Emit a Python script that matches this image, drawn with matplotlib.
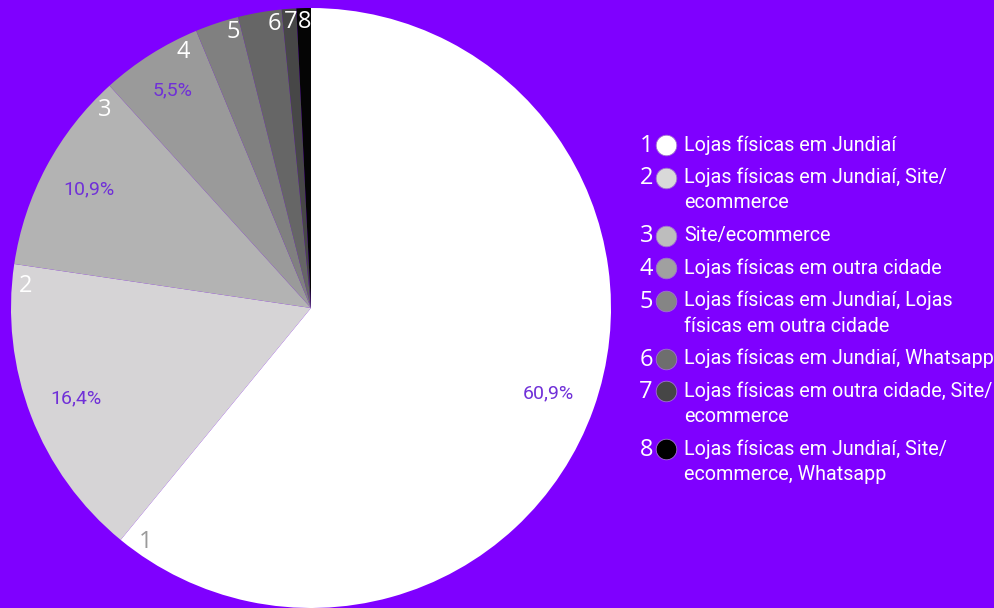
import matplotlib
matplotlib.use("Agg")
import matplotlib.pyplot as plt
import numpy as np

# respostas (n = 128)
counts = [78, 21, 14, 7, 3, 3, 1, 1]
pct_labels = ["60,9%", "16,4%", "10,9%", "5,5%", "", "", "", ""]
slice_colors = ["#FFFFFF", "#D6D4D6", "#B3B3B3", "#9A9A9A",
                "#808080", "#666666", "#474747", "#050505"]
marker_colors = ["#FFFFFF", "#D9D9D9", "#BDBDBD", "#A0A0A0",
                 "#858585", "#6E6E6E", "#464646", "#000000"]
legend_labels = [
    "Lojas físicas em Jundiaí",
    "Lojas físicas em Jundiaí, Site/\necommerce",
    "Site/ecommerce",
    "Lojas físicas em outra cidade",
    "Lojas físicas em Jundiaí, Lojas\nfísicas em outra cidade",
    "Lojas físicas em Jundiaí, Whatsapp",
    "Lojas físicas em outra cidade, Site/\necommerce",
    "Lojas físicas em Jundiaí, Site/\necommerce, Whatsapp",
]

BG = "#7F00FF"
PCT_COLOR = "#7030D8"
W, H = 994, 608
CX, CY, R = 311, 608 - 308, 300

fig = plt.figure(figsize=(W / 100, H / 100), dpi=100)
fig.patch.set_facecolor(BG)
ax = fig.add_axes([0, 0, 1, 1])
ax.set_facecolor(BG)

ax.pie(counts, colors=slice_colors, startangle=90, counterclock=False,
       center=(CX, CY), radius=R, wedgeprops=dict(linewidth=0))
ax.set_xlim(0, W)
ax.set_ylim(0, H)
ax.set_aspect("equal")
ax.axis("off")

# percentages and slice numbers
total = sum(counts)
cum = 0
for i, c in enumerate(counts):
    a0 = cum / total * 360
    cum += c
    a1 = cum / total * 360
    mid = np.radians((a0 + a1) / 2)
    if pct_labels[i]:
        rp = 0.84 * R if c / total > 0.08 else 0.86 * R
        ax.text(CX + rp * np.sin(mid), CY + rp * np.cos(mid), pct_labels[i],
                color=PCT_COLOR, fontsize=14, family="Roboto",
                ha="center", va="center")
    width = a1 - a0
    off = 4.0 if width > 15 else (width * 0.2 if width > 5 else width * 0.45)
    ang = np.radians(a1 - off)
    rn = 0.955 * R
    ax.text(CX + rn * np.sin(ang), CY + rn * np.cos(ang), str(i + 1),
            color="#9A9A9A" if i == 0 else "white", fontsize=17,
            family="Open Sans", ha="center", va="center")

# legend
y = 145
for i, lab in enumerate(legend_labels):
    yy = H - y
    ax.text(653, yy - 1, str(i + 1), color="white", fontsize=17,
            family="Open Sans", ha="right", va="center")
    ax.scatter([666], [yy], s=220, color=marker_colors[i],
               edgecolors="#A070D0", linewidths=0.6, zorder=3)
    lines = lab.split("\n")
    for k, ln in enumerate(lines):
        ax.text(684, yy - 25.5 * k, ln, color="white", fontsize=14.2,
                family="Roboto", ha="left", va="center")
    y += 25.5 * (len(lines) - 1) + 32.5

fig.savefig("out.png", dpi=100, facecolor=BG)
